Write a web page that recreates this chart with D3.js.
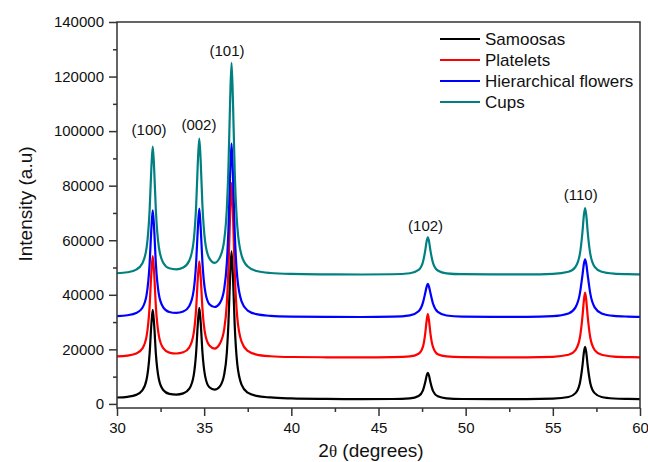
<!DOCTYPE html>
<html>
<head>
<meta charset="utf-8">
<script src="https://cdn.jsdelivr.net/npm/d3@7"></script>
<style>
  body { margin: 0; background: #fff; }
  text { font-family: "Liberation Sans", Arial, sans-serif; fill: #111; }
</style>
</head>
<body>
<svg id="chart"></svg>
<script>
// 2theta sample positions (degrees)
const twoTheta = [30.0, 30.6, 31.1, 31.45, 31.7, 31.87, 31.97, 32.05, 32.13, 32.23,
  32.4, 32.65, 33.0, 33.4, 33.8, 34.15, 34.4, 34.54, 34.64, 34.72,
  34.8, 34.9, 35.05, 35.3, 35.6, 35.9, 36.15, 36.3, 36.39, 36.49,
  36.57, 36.65, 36.75, 36.9, 37.15, 37.5, 38.0, 38.8, 40.0, 42.0,
  44.0, 45.8, 46.8, 47.3, 47.55, 47.68, 47.76, 47.83, 47.9, 47.98,
  48.13, 48.4, 48.9, 49.8, 51.5, 53.5, 55.0, 55.9, 56.3, 56.55,
  56.7, 56.78, 56.85, 56.92, 57.0, 57.15, 57.4, 57.8, 58.5, 59.3, 60.0]

const samoosas = [2340, 2600, 3310, 4930, 9010, 18330, 29120, 34440, 29140, 18360,
  9120, 5110, 3700, 3430, 3850, 5570, 10440, 18910, 29820, 35210,
  29890, 19030, 10380, 6090, 5220, 6440, 10820, 18750, 29210, 47070,
  55880, 47030, 29080, 14570, 6990, 4110, 2930, 2360, 2020, 1820,
  1730, 1790, 2050, 2910, 4980, 7910, 10330, 11400, 10330, 7910,
  4690, 2770, 2030, 1800, 1760, 1770, 1920, 2520, 3950, 7610,
  13990, 18790, 20900, 18790, 13990, 7610, 3950, 2520, 1980, 1830, 1780]

const platelets = [17390, 17690, 18440, 20240, 24940, 35720, 48040, 54150, 48060, 35670,
  25050, 20450, 18810, 18480, 18920, 20750, 25920, 34920, 46510, 52230,
  46590, 35080, 25900, 21400, 20300, 22100, 27390, 36920, 48940, 69900,
  80900, 69860, 48740, 31660, 22730, 19410, 18090, 17480, 17200, 17090,
  17040, 17150, 17400, 18400, 21000, 25800, 30400, 32900, 30400, 25800,
  20800, 18200, 17400, 17150, 17080, 17090, 17270, 18000, 19750, 24240,
  32040, 37900, 40800, 37900, 32040, 24240, 19750, 18000, 17340, 17160, 17090]

const flowers = [32200, 32510, 33300, 35180, 40070, 51290, 64200, 71000, 64250, 51360,
  40190, 35410, 33700, 33380, 33880, 35920, 41690, 51730, 64650, 71600,
  64700, 51900, 41630, 36550, 35520, 36960, 42180, 51630, 63550, 84340,
  95400, 84300, 63330, 46370, 37510, 34210, 32890, 32280, 32000, 31880,
  31850, 31980, 32470, 33980, 37130, 40620, 42920, 44000, 42920, 40620,
  36720, 33730, 32420, 31990, 31900, 31920, 32180, 33170, 35390, 40410,
  47240, 51270, 53000, 51270, 47240, 40410, 35390, 33170, 32260, 32010, 31930]

const cups = [47890, 48270, 49220, 51470, 57350, 70850, 86380, 94300, 86400, 70920,
  57510, 51760, 49720, 49350, 50000, 52580, 59900, 72620, 89000, 97300,
  89100, 72830, 59790, 53340, 51700, 53720, 60050, 71540, 86030, 111310,
  125000, 111300, 85780, 65130, 54360, 50340, 48730, 47980, 47650, 47500,
  47440, 47530, 47890, 49110, 52030, 56170, 59590, 61100, 59590, 56170,
  51620, 48910, 47870, 47540, 47480, 47490, 47680, 48440, 50260, 54920,
  63020, 69120, 71800, 69120, 63020, 54920, 50260, 48440, 47750, 47560, 47500]

const seriesNames = ["Samoosas", "Platelets", "Hierarchical flowers", "Cups"]
const seriesColors = ["#000000", "#ff0000", "#0000ff", "#008080"]

const peakLabels = ["(100)", "(002)", "(101)", "(102)", "(110)"]
const peakLabelX = [31.84, 34.7, 36.31, 47.7, 56.6]
const peakLabelY = [98600, 100400, 127500, 63400, 74750]

const xTicks = [30, 35, 40, 45, 50, 55, 60]
const yTicks = [0, 20000, 40000, 60000, 80000, 100000, 120000, 140000]

const width = 648
const height = 462
const margin = { left: 117, right: 640, top: 22, bottom: 408 }

const svg = d3.select("#chart")
  .attr("width", width)
  .attr("height", height)

const x = d3.scaleLinear().domain([30, 60]).range([margin.left, margin.right])
const y = d3.scaleLinear().domain([-1500, 140000]).range([margin.bottom, margin.top])

const allSeries = [samoosas, platelets, flowers, cups]

const line = d3.line()
  .x((d, i) => x(twoTheta[i]))
  .y(d => y(d))
  .curve(d3.curveMonotoneX)

svg.append("g")
  .selectAll("path")
  .data(allSeries)
  .join("path")
  .attr("d", d => line(d))
  .attr("fill", "none")
  .attr("stroke", (d, i) => seriesColors[i])
  .attr("stroke-width", 2.2)
  .attr("stroke-linejoin", "round")

// frame
svg.append("rect")
  .attr("x", margin.left).attr("y", margin.top)
  .attr("width", margin.right - margin.left).attr("height", margin.bottom - margin.top)
  .attr("fill", "none")
  .attr("stroke", "#333")
  .attr("stroke-width", 1.5)

// x axis
const xAxis = svg.append("g")
  .attr("transform", `translate(0,${margin.bottom})`)
  .call(d3.axisBottom(x).tickValues(xTicks).tickSize(8).tickPadding(6).tickFormat(d3.format("d")))
xAxis.select(".domain").remove()
xAxis.call(g => g.selectAll("line").attr("stroke", "#333").attr("stroke-width", 1.5))
xAxis.selectAll("text").attr("font-size", 15).attr("font-family", "Liberation Sans, Arial, sans-serif").attr("fill", "#111")

svg.append("g")
  .attr("transform", `translate(0,${margin.bottom})`)
  .call(d3.axisBottom(x).tickValues([32.5, 37.5, 42.5, 47.5, 52.5, 57.5]).tickSize(4).tickFormat(""))
  .call(g => g.select(".domain").remove())
  .call(g => g.selectAll("line").attr("stroke", "#333").attr("stroke-width", 1.5))

// y axis
const yAxis = svg.append("g")
  .attr("transform", `translate(${margin.left},0)`)
  .call(d3.axisLeft(y).tickValues(yTicks).tickSize(8).tickPadding(5).tickFormat(d3.format("d")))
yAxis.select(".domain").remove()
yAxis.call(g => g.selectAll("line").attr("stroke", "#333").attr("stroke-width", 1.5))
yAxis.selectAll("text").attr("font-size", 15).attr("font-family", "Liberation Sans, Arial, sans-serif").attr("fill", "#111")

svg.append("g")
  .attr("transform", `translate(${margin.left},0)`)
  .call(d3.axisLeft(y).tickValues([10000, 30000, 50000, 70000, 90000, 110000, 130000]).tickSize(4).tickFormat(""))
  .call(g => g.select(".domain").remove())
  .call(g => g.selectAll("line").attr("stroke", "#333").attr("stroke-width", 1.5))

// axis titles
const xTitle = svg.append("text")
  .attr("x", 371).attr("y", 457)
  .attr("text-anchor", "middle")
  .attr("font-size", 19)
xTitle.append("tspan").text("2")
xTitle.append("tspan").attr("font-family", "Liberation Serif, serif").attr("font-size", 17).text("θ")
xTitle.append("tspan").text(" (degrees)")

svg.append("text")
  .attr("transform", "translate(32,204) rotate(-90)")
  .attr("text-anchor", "middle")
  .attr("font-size", 19)
  .text("Intensity (a.u)")

// peak labels
svg.append("g")
  .selectAll("text")
  .data(peakLabels)
  .join("text")
  .attr("x", (d, i) => x(peakLabelX[i]))
  .attr("y", (d, i) => y(peakLabelY[i]))
  .attr("text-anchor", "middle")
  .attr("font-size", 15)
  .text(d => d)

// legend
const legend = svg.append("g")
  .selectAll("g")
  .data(seriesNames)
  .join("g")
  .attr("transform", (d, i) => `translate(440,${39 + i * 21})`)

legend.append("line")
  .attr("x1", 0).attr("x2", 40)
  .attr("stroke", (d, i) => seriesColors[i])
  .attr("stroke-width", 2.2)

legend.append("text")
  .attr("x", 45).attr("y", 6)
  .attr("font-size", 17)
  .text(d => d)
</script>
</body>
</html>
